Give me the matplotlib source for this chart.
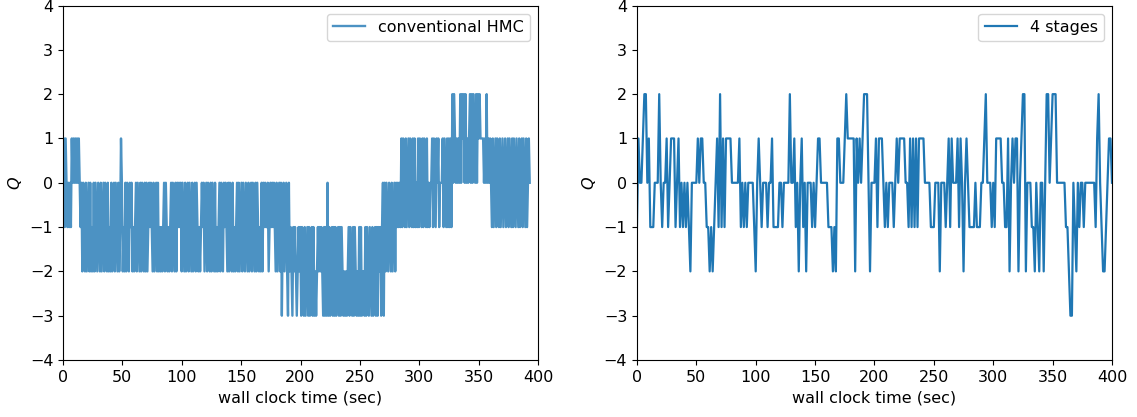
"""
Topological charge Q vs wall clock time: conventional HMC vs 4 stages.
"""

import numpy as np
import matplotlib.pyplot as plt


# Q history, conventional HMC (evenly spaced in time)
q_hmc = [
    0, 1, -1, 1, 0, -1, 0, -1, 0, -1,
    1, 0, 1, 0, 1, 0, 1, 0, 1, 0,
    -1, 0, -2, 0, -1, -2, 0, -2, -1, 0,
    -2, 0, -2, -1, -2, 0, -2, 0, -1, -2,
    0, -1, -2, 0, -2, -1, 0, -2, 0, -1,
    -2, 0, -2, -1, -2, 0, -2, -1, 0, -2,
    0, -1, -2, 0, -2, -1, 1, 0, -2, -1,
    -2, 0, -2, 0, -1, -2, 0, -1, 0, -2,
    -1, -2, -1, 0, -2, 0, -1, -2, 0, -2,
    0, -1, -2, 0, -2, 0, -2, -1, 0, -1,
    0, -1, -2, 0, -2, -1, 0, -2, 0, -2,
    -1, -2, -1, -2, -1, 0, -2, 0, -1, -2,
    -1, -2, -1, 0, -2, 0, -1, -2, 0, -2,
    0, -1, 0, -1, 0, -2, 0, -1, -2, 0,
    -2, -1, 0, -2, 0, -1, -2, 0, -2, -1,
    0, -2, 0, -1, -2, -1, -2, -1, 0, -1,
    0, -2, -1, 0, -2, 0, -1, -2, 0, -2,
    0, -1, -2, 0, -2, -1, -2, -1, 0, -2,
    0, -1, -2, 0, -1, 0, -1, -2, 0, -2,
    0, -1, -2, 0, -2, -1, -2, -1, 0, -2,
    0, -2, -1, 0, -2, 0, -1, -2, 0, -1,
    -2, 0, -2, -1, 0, -2, 0, -1, -2, 0,
    -2, 0, -1, -2, -1, -2, 0, -2, 0, -1,
    0, -1, -1, 0, -2, -1, 0, -1, 0, -1,
    0, -1, -2, 0, -2, -1, 0, -2, 0, -3,
    -1, 0, -2, -1, 0, -2, -3, 0, -2, -1,
    -2, -3, -1, -2, -1, -2, -3, -2, -1, -2,
    -1, -3, -1, -2, -3, -1, -3, -2, -1, -3,
    -1, -3, -2, -1, -3, -1, -3, -2, -3, -2,
    -1, -2, -1, -2, -1, -2, -3, -1, -3, -1,
    -3, 0, -3, -1, -3, -2, -1, -3, -1, -3,
    -1, -3, -2, -1, -3, -1, -3, -1, -2, -3,
    -2, -3, -2, -3, -2, -1, -3, -1, -2, -3,
    -1, -3, -1, -2, -3, -2, -3, -1, -3, -1,
    -3, -2, -2, -3, -1, -3, -1, -2, -3, -1,
    -2, -3, -1, -3, -2, -1, -3, -1, -3, -1,
    -2, -1, -3, -1, 0, -3, 0, -2, 0, -1,
    -2, 0, -1, -2, 0, -2, -1, 0, -2, 0,
    -1, 0, -1, 0, -1, 1, -1, 1, 0, -1,
    1, -1, 0, 1, -1, 1, 0, -1, 1, -1,
    1, -1, 0, -1, 1, -1, 1, 0, -1, 1,
    -1, 1, 0, -1, 1, -1, 0, -1, 0, 0,
    1, -1, 1, 0, -1, 1, 0, 1, -1, 0,
    0, 0, 1, -1, 1, 0, -1, 1, -1, 1,
    -1, 1, -1, 2, 0, 2, 1, 0, 1, 0,
    1, 0, 2, 0, 2, 1, 2, 0, 2, 0,
    1, 0, 1, 2, 0, 2, 0, 2, 1, 0,
    2, 0, 2, 1, 2, 1, 1, 1, 1, 0,
    1, 0, 2, 0, 1, 0, 1, 0, -1, 1,
    -1, 0, 1, -1, 1, 0, -1, 1, -1, 0,
    1, -1, 0, 1, -1, 0, 1, -1, 1, 0,
    -1, 1, -1, 1, 0, -1, 1, 0, -1, 1,
    -1, 0, 1, -1, 1, 0, -1, 1, -1, 0,
    1, 0,
]

# Q history, 4 stages (evenly spaced in time)
q_stages = [
    -1, 1, 0, 0, 1, 2, 2, 0, 1, -1,
    -1, -1, 0, 0, 0, 2, 0, -1, 0, 0,
    1, -1, 0, 1, 1, 1, -1, 0, 1, -1,
    0, -1, 0, -1, 0, -1, -2, 0, 0, 0,
    0, 1, 0, 1, 1, 0, 0, -1, -1, -2,
    -1, -2, -1, 0, 1, -1, 2, -1, 1, -1,
    1, 1, 1, 1, 0, 0, 0, 0, 0, 1,
    -1, 0, -1, 0, -1, 0, 0, 0, 0, -1,
    -2, 0, 1, 0, -1, 0, 0, 0, -1, 0,
    0, 1, -1, -1, -1, -1, 0, 0, -1, 0,
    0, 0, 0, 2, 0, 0, 1, -1, 0, -2,
    0, 1, -1, 0, -2, 0, 0, 0, -1, 0,
    -1, 0, 1, 1, 0, 0, 0, 0, 0, -1,
    -1, -1, -2, -1, -2, 1, 1, 0, 0, 0,
    1, 2, 1, 1, 1, 1, 1, -2, 1, 0,
    1, 0, 1, 2, 2, 2, 0, -2, 0, 0,
    0, 1, -1, 1, 1, 1, 0, -1, 0, -1,
    0, 0, 0, -1, 0, 1, 0, 1, 1, 1,
    1, 0, 0, -1, 1, -1, 1, -1, 1, -1,
    1, 1, 1, 1, 0, 0, 0, 0, -1, -1,
    -1, 0, 0, 0, -2, 0, 0, 0, -1, 0,
    1, -1, 1, 0, 0, 0, 1, -1, 1, 0,
    -2, 0, 1, 0, -1, -1, -1, -1, 0, -1,
    -1, -1, 0, 0, 1, 2, 0, 0, 0, -1,
    0, -1, 1, 1, 1, 1, 0, 0, -1, -1,
    1, -2, 0, 1, 0, 1, 1, -2, 0, 1,
    2, 2, -2, 0, 0, 0, -1, -1, -2, 0,
    -1, -2, 0, 0, -2, 0, 2, 2, 0, 1,
    2, 2, 2, 0, 0, 0, 0, 0, 0, -1,
    -1, -2, -3, -3, 0, -1, -2, 0, -1, 0,
    0, -1, 0, 0, 0, 0, 0, 0, 0, -1,
    1, 2, 0, -1, -2, -2, -1, 0, 1, 1, 0,
]

T_HMC_END = 393.0     # последняя точка HMC, сек
T_STAGES_END = 400.0  # последняя точка 4 stages, сек


def main():
    t_hmc = np.linspace(0, T_HMC_END, len(q_hmc))
    t_stages = np.linspace(0, T_STAGES_END, len(q_stages))

    plt.rcParams["font.size"] = 11.5

    fig = plt.figure(figsize=(11.37, 4.17), dpi=100)
    ax1 = fig.add_axes([0.0554, 0.1367, 0.4178, 0.850])
    ax2 = fig.add_axes([0.5602, 0.1367, 0.4178, 0.850])

    ax1.plot(t_hmc, q_hmc, color="C0", alpha=0.8, lw=1.7, label="conventional HMC")
    ax2.plot(t_stages, q_stages, color="C0", lw=1.6, label="4 stages")

    for ax in (ax1, ax2):
        ax.set_xlim(0, 400)
        ax.set_ylim(-4, 4)
        ax.set_xticks(np.arange(0, 401, 50))
        ax.set_yticks(np.arange(-4, 5, 1))
        ax.set_xlabel("wall clock time (sec)")
        ax.set_ylabel(r"$Q$")
        ax.legend(loc="upper right")

    fig.savefig("out.png", dpi=100)


if __name__ == "__main__":
    main()
